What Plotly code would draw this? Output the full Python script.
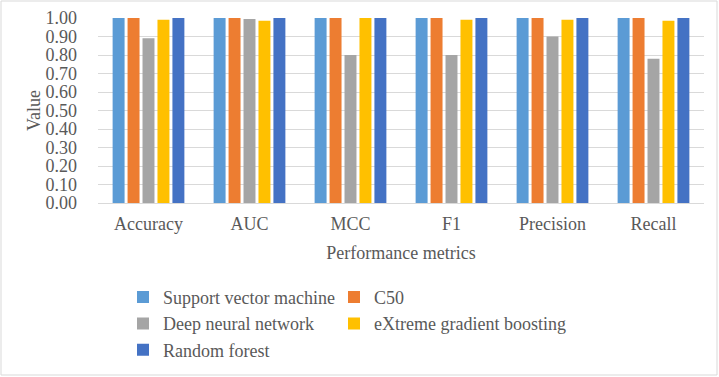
import plotly.graph_objects as go

categories = ["Accuracy", "AUC", "MCC", "F1", "Precision", "Recall"]
series_names = ["Support vector machine", "C50", "Deep neural network",
                "eXtreme gradient boosting", "Random forest"]
svm = [1.00, 1.00, 1.00, 1.00, 1.00, 1.00]
c50 = [1.00, 1.00, 1.00, 1.00, 1.00, 1.00]
dnn = [0.89, 0.995, 0.80, 0.80, 0.90, 0.78]
xgb = [0.99, 0.985, 1.00, 0.99, 0.99, 0.985]
rf = [1.00, 1.00, 1.00, 1.00, 1.00, 1.00]
y_ticks = [0.0, 0.1, 0.2, 0.3, 0.4, 0.5, 0.6, 0.7, 0.8, 0.9, 1.0]

colors = ["#5B9BD5", "#ED7D31", "#A5A5A5", "#FFC000", "#4472C4"]
legend_col = ["legend", "legend2", "legend", "legend2", "legend"]
font = "Liberation Serif"
tc = "#595959"

fig = go.Figure()
for name, vals, col, lg in zip(series_names, [svm, c50, dnn, xgb, rf], colors, legend_col):
    fig.add_trace(go.Bar(x=categories, y=vals, name=name, marker_color=col,
                         marker_line_width=0, legend=lg))

W, H = 719, 377
ml, mr, mt, mb = 98, 15, 18, 174
pw, ph = W - ml - mr, H - mt - mb

leg_common = dict(orientation="v", yanchor="top", xanchor="left",
                  font=dict(family=font, size=18, color=tc),
                  tracegroupgap=0, itemwidth=30, itemclick=False,
                  bgcolor="rgba(0,0,0,0)")

fig.update_layout(
    width=W, height=H,
    margin=dict(l=ml, r=mr, t=mt, b=mb, autoexpand=False),
    paper_bgcolor="white", plot_bgcolor="white",
    barmode="group", bargap=0.26, bargroupgap=0.2,
    font=dict(family=font, size=18, color=tc),
    showlegend=True,
    legend=dict(x=(123 - ml) / pw, y=-0.41, **leg_common),
    legend2=dict(x=(334 - ml) / pw, y=-0.41, **leg_common),
    xaxis=dict(title=dict(text="Performance metrics", standoff=13,
                          font=dict(family=font, size=18, color=tc)),
               automargin=False, ticklabelstandoff=4,
               showline=True, linecolor="#d9d9d9", linewidth=1,
               ticks="", tickfont=dict(family=font, size=18, color=tc)),
    yaxis=dict(title=dict(text="Value", standoff=0,
                          font=dict(family=font, size=18, color=tc)),
               automargin=False, ticklabelstandoff=20,
               range=[0, 1.0], tickvals=y_ticks,
               ticktext=[f"{v:.2f}" for v in y_ticks],
               showgrid=True, gridcolor="#d9d9d9", gridwidth=1,
               zeroline=False, showline=False, ticks="",
               tickfont=dict(family=font, size=18, color=tc)),
)

# light grey frame around the whole chart
fig.add_shape(type="rect", xref="paper", yref="paper",
              x0=(1 - ml) / pw, x1=(W - ml - 2) / pw,
              y0=-(mb - 2) / ph, y1=1 + (mt - 1) / ph,
              line=dict(color="#d9d9d9", width=1), fillcolor="rgba(0,0,0,0)",
              layer="below")

fig.write_html("out.html",
               config={"displayModeBar": False},
               post_script="document.body.style.margin='0';"
                           "document.body.style.padding='0';")
